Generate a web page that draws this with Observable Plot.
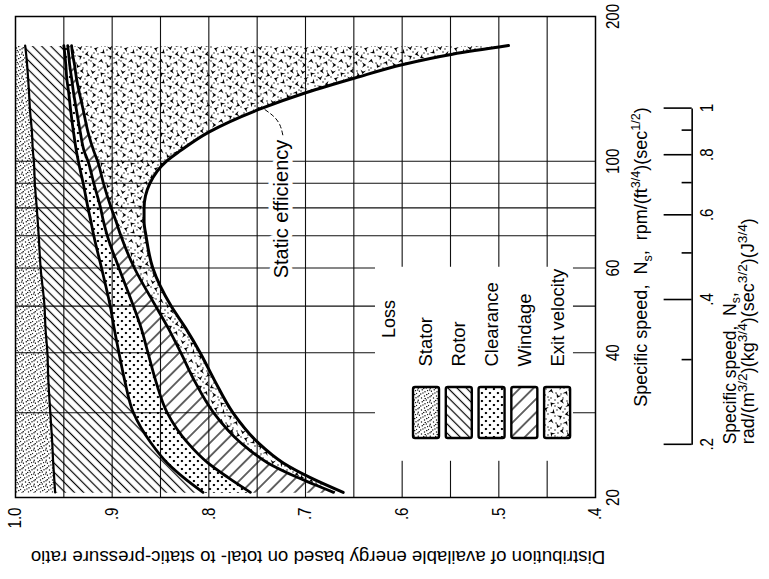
<!DOCTYPE html>
<html><head><meta charset="utf-8">
<script src="https://cdn.jsdelivr.net/npm/d3@7"></script>
<script src="https://cdn.jsdelivr.net/npm/@observablehq/plot@0.6"></script>
<style>
html,body{margin:0;padding:0;background:#fff;overflow:hidden;width:769px;height:579px;}
#wrap{position:absolute;left:0;top:0;width:579px;height:769px;transform-origin:0 0;transform:translate(0px,579px) rotate(-90deg);}
#wrap svg text{white-space:pre;}
</style></head>
<body><div id="wrap"></div>
<script>
// ---- data ----
const speeds          = [20.5, 22, 23.6, 26, 30, 35, 40, 45, 50, 60, 70, 75, 80, 90, 100, 105, 115, 128, 139, 149, 159, 167, 174];
const statorEdge      = [0.959,0.960,0.961,0.962,0.964,0.966,0.967,0.969,0.970,0.974,0.976,0.977,0.978,0.980,0.981,0.982,0.983,0.985,0.986,0.987,0.988,0.989,0.990];
const rotorEdge       = [0.806,0.826,0.843,0.860,0.878,0.887,0.893,0.898,0.902,0.911,0.919,0.922,0.925,0.930,0.935,0.937,0.940,0.943,0.945,0.947,0.948,0.949,0.950];
const clearanceEdge   = [0.757,0.780,0.801,0.822,0.843,0.855,0.863,0.870,0.878,0.893,0.905,0.909,0.912,0.919,0.925,0.929,0.933,0.937,0.940,0.942,0.944,0.945,0.946];
const windageEdge     = [0.671,0.708,0.739,0.767,0.795,0.815,0.829,0.842,0.855,0.877,0.891,0.896,0.901,0.909,0.915,0.919,0.925,0.930,0.934,0.937,0.939,0.941,0.942];
const staticEfficiency= [0.661,0.695,0.723,0.749,0.775,0.794,0.809,0.824,0.839,0.858,0.865,0.867,0.867,0.861,0.844,0.830,0.800,0.749,0.699,0.649,0.599,0.548,0.490];

const valueTicks = [1.0, 0.9, 0.8, 0.7, 0.6, 0.5, 0.4];
const valueGrid  = [0.95, 0.9, 0.85, 0.8, 0.75, 0.7, 0.65, 0.6, 0.55, 0.5, 0.45];
const speedTicks = [20, 40, 60, 80, 100, 200];
const speedGrid  = [30, 40, 50, 60, 70, 80, 90, 100];
const siMajor    = [0.2, 0.4, 0.6, 0.8, 1.0];
const siMinor    = [0.3, 0.5, 0.7, 0.9];
const siFactor   = 129;   // rpm/(ft^3/4)(sec^1/2) per SI unit
const lossNames  = ["Stator", "Rotor", "Clearance", "Windage", "Exit velocity"];
const patternIds = ["pStator", "pRotor", "pClear", "pWind", "pExit"];

const xTitle  = "Specific speed,  N_{s},  rpm/(ft^{3/4})(sec^{1/2})";
const x2Title = ["Specific speed,  N_{s},", "rad/(m^{3/2})(kg^{3/4})(sec^{3/2})(J^{3/4})"];
const yTitle  = "Distribution of available energy based on total- to static-pressure ratio";

// ---- build ----
const rows = speeds.map((s, i) => ({speed: s, stator: statorEdge[i], rotor: rotorEdge[i],
  clearance: clearanceEdge[i], windage: windageEdge[i], eff: staticEfficiency[i]}));
const legendRows = lossNames.map((name, i) => ({name, id: patternIds[i], v: 0.5748 - i * 0.0339}));

const SANS = "'Liberation Sans',Arial,sans-serif";
const fmtV = d => d === 1 ? "1.0" : d.toFixed(1).replace(/^0/, "");
const fmtSI = d => d === 1 ? "1" : d.toFixed(1).replace(/^0/, "");
const K = "#000";
const cv = "monotone-x";

const plot = Plot.plot({
  width: 579, height: 769,
  marginLeft: 81, marginRight: 17, marginTop: 15, marginBottom: 174,
  style: {fontFamily: SANS, fontSize: "17px", color: "#000", background: "#fff", overflow: "visible"},
  x: {type: "log", domain: [20, 200]},
  y: {domain: [0.4, 1.0]},
  marks: [
    Plot.ruleY(valueGrid, {x1: 20, x2: 200, stroke: "#111", strokeWidth: 1.1}),
    Plot.ruleX(speedGrid, {y1: 0.4, y2: 1.0, stroke: "#111", strokeWidth: 1.1}),
    // legend background (covers grid)
    Plot.rect([0], {x1: 23.9, x2: 60.5, y1: 0.4228, y2: 0.6276, fill: "#fff"}),
    // loss bands
    Plot.areaY(rows, {x: "speed", y1: () => 1.0, y2: "stator", fill: "url(#pStator)", curve: cv}),
    Plot.areaY(rows, {x: "speed", y1: "stator", y2: "rotor", fill: "url(#pRotor)", curve: cv}),
    Plot.areaY(rows, {x: "speed", y1: "rotor", y2: "clearance", fill: "url(#pClear)", curve: cv}),
    Plot.areaY(rows, {x: "speed", y1: "clearance", y2: "windage", fill: "url(#pWind)", curve: cv}),
    Plot.areaY(rows, {x: "speed", y1: "windage", y2: "eff", fill: "url(#pExit)", curve: cv}),
    Plot.line(rows, {x: "speed", y: "stator", stroke: K, strokeWidth: 2.2, curve: cv}),
    Plot.line(rows, {x: "speed", y: "rotor", stroke: K, strokeWidth: 2.8, curve: cv}),
    Plot.line(rows, {x: "speed", y: "clearance", stroke: K, strokeWidth: 2.8, curve: cv}),
    Plot.line(rows, {x: "speed", y: "windage", stroke: K, strokeWidth: 2.8, curve: cv}),
    Plot.line(rows, {x: "speed", y: "eff", stroke: K, strokeWidth: 3, curve: cv}),
    Plot.frame({stroke: K, strokeWidth: 1.5}),
    // static efficiency label + leader
    Plot.text(["Static efficiency"], {x: 110.9, y: 0.7243, text: d => d, textAnchor: "end", lineAnchor: "middle",
      fontSize: 20, stroke: "#fff", strokeWidth: 9, fill: K}),
    Plot.line([[113.5, 0.7235], [119, 0.7265], [124, 0.733], [128.5, 0.743]], {x: d => d[0], y: d => d[1],
      stroke: K, strokeWidth: 1, strokeDasharray: "4,3", curve: "natural"}),
    // legend
    Plot.text(["Loss"], {x: 47.0, y: 0.6136, text: d => d, fontSize: 18, lineAnchor: "middle"}),
    ...legendRows.map(d => Plot.rect([d], {x1: 26.65, x2: 34.02, y1: r => r.v - 0.01345, y2: r => r.v + 0.01345,
      fill: `url(#${d.id})`, stroke: K, strokeWidth: 2.4, rx: 2})),
    Plot.text(legendRows, {x: 37.44, y: "v", text: "name", textAnchor: "start", lineAnchor: "middle", fontSize: 18.5}),
    // axes
    Plot.axisX(speedTicks, {tickSize: 0, tickPadding: 11, fontSize: 18, tickFormat: d => `${d}`, label: null, className: "cond"}),
    Plot.axisY(valueTicks, {tickSize: 0, tickPadding: 10, fontSize: 18, tickFormat: fmtV, label: null, className: "cond"}),
    Plot.text([xTitle], {x: 63.25, y: 0.4, dy: 46, text: d => d, lineAnchor: "middle", fontSize: 18}),
    Plot.text([yTitle], {x: 20, y: 0.6871, dx: -59, text: d => d, rotate: -90, lineAnchor: "middle", fontSize: 18.7}),
    // second (SI) axis
    Plot.ruleY([0.3], {x1: siMajor[0] * siFactor, x2: siMajor[siMajor.length - 1] * siFactor, stroke: K, strokeWidth: 1.6}),
    Plot.ruleX(siMajor, {x: d => d * siFactor, y1: 0.3, y2: 0.329, stroke: K, strokeWidth: 1.6}),
    Plot.ruleX(siMinor, {x: d => d * siFactor, y1: 0.3, y2: 0.3104, stroke: K, strokeWidth: 1.6}),
    Plot.text(siMajor, {x: d => d * siFactor, y: 0.3, dy: 15, text: fmtSI, lineAnchor: "middle", fontSize: 18, className: "cond"}),
    Plot.text([x2Title[0]], {x: siMajor[0] * siFactor, y: 0.4, dy: 135, text: d => d, textAnchor: "start", lineAnchor: "middle", fontSize: 17.5}),
    Plot.text([x2Title[1]], {x: siMajor[0] * siFactor, y: 0.4, dy: 153, text: d => d, textAnchor: "start", lineAnchor: "middle", fontSize: 18, className: "wide-sup"})
  ]
});

// ---- fill patterns (styles) ----
const statorDots = [[1,1.5],[5,0.8],[9.2,2.2],[3,4.5],[7.2,5],[11,6.2],[1.2,8],[5.5,8.6],[9,9.8],[3.3,11.2],[7.8,11.5],[10.5,3.8],[0.4,5.2],[6,2.9],[2.2,10],[10.8,10.2],[4.4,6.8],[8.4,7.6]];
const exitChevrons = [[4,4,0],[12,2,150],[20,6,200],[27,3,100],[8,11,280],[17,13,40],[25,12,230],[3,18,120],[12,20,330],[21,20,80],[28,22,180],[6,26,300],[15,27,170],[24,28,20]];
const exitDots = [[8,1],[15,8],[22,1],[1,11],[6,16],[19,17],[29,15],[11,24],[20,25],[28,27],[9,29],[1,23],[16,4],[2,8],[24,8],[13,15],[26,18],[5,21],[17,23],[29,9],[10,6],[23,15]];
let defs = "";
defs += `<pattern id="pStator" width="12" height="12" patternUnits="userSpaceOnUse">` +
  statorDots.map(([x,y]) => `<circle cx="${x}" cy="${y}" r="0.7" fill="#000"/>`).join("") + `</pattern>`;
defs += `<pattern id="pRotor" width="6.5" height="6.5" patternUnits="userSpaceOnUse" patternTransform="rotate(45)"><line x1="3.25" y1="-1" x2="3.25" y2="7.5" stroke="#000" stroke-width="1.2"/></pattern>`;
defs += `<pattern id="pClear" width="8" height="8" patternUnits="userSpaceOnUse"><circle cx="2" cy="2" r="1.15" fill="#000"/><circle cx="6" cy="6" r="1.15" fill="#000"/></pattern>`;
defs += `<pattern id="pWind" width="9.5" height="9.5" patternUnits="userSpaceOnUse" patternTransform="rotate(-45)"><line x1="4.75" y1="-1" x2="4.75" y2="10.5" stroke="#000" stroke-width="1.2"/></pattern>`;
defs += `<pattern id="pExit" width="30" height="30" patternUnits="userSpaceOnUse">` +
  exitChevrons.map(([x,y,a]) => `<path d="M-2.8,-2L0,2.2L2.8,-2L0,-0.4Z" fill="#000" transform="translate(${x},${y}) rotate(${a})"/>`).join("") +
  exitDots.map(([x,y]) => `<circle cx="${x}" cy="${y}" r="0.7" fill="#000"/>`).join("") + `</pattern>`;
const svgNS = "http://www.w3.org/2000/svg";
const defsEl = document.createElementNS(svgNS, "defs");
defsEl.innerHTML = defs;
plot.insertBefore(defsEl, plot.firstChild);

document.getElementById("wrap").appendChild(plot);

// ---- condensed numerals (the original uses a condensed face) ----
plot.querySelectorAll(".cond text").forEach(el => {
  const len = el.getComputedTextLength();
  el.setAttribute("textLength", (len * 0.84).toFixed(1));
  el.setAttribute("lengthAdjust", "spacingAndGlyphs");
});

// ---- superscripts / subscripts ----
plot.querySelectorAll("text").forEach(el => {
  const s = el.textContent;
  if (!/[\^_]\{/.test(s)) return;
  const fs = parseFloat(getComputedStyle(el).fontSize) || 17;
  const ratio = el.closest(".wide-sup") ? 0.76 : 0.7;
  const parts = [];
  const re = /([\^_])\{([^}]*)\}/g;
  let last = 0, m;
  while ((m = re.exec(s))) {
    if (m.index > last) parts.push(["", s.slice(last, m.index)]);
    parts.push([m[1], m[2]]);
    last = re.lastIndex;
  }
  if (last < s.length) parts.push(["", s.slice(last)]);
  el.textContent = "";
  let cur = 0;
  for (const [k, t] of parts) {
    const target = k === "^" ? -0.42 * fs : k === "_" ? 0.25 * fs : 0;
    const ts = document.createElementNS(svgNS, "tspan");
    ts.textContent = t;
    if (target !== cur) ts.setAttribute("dy", (target - cur).toFixed(2));
    if (k) ts.setAttribute("font-size", (ratio * fs).toFixed(1));
    cur = target;
    el.appendChild(ts);
  }
});
</script>
</body></html>
